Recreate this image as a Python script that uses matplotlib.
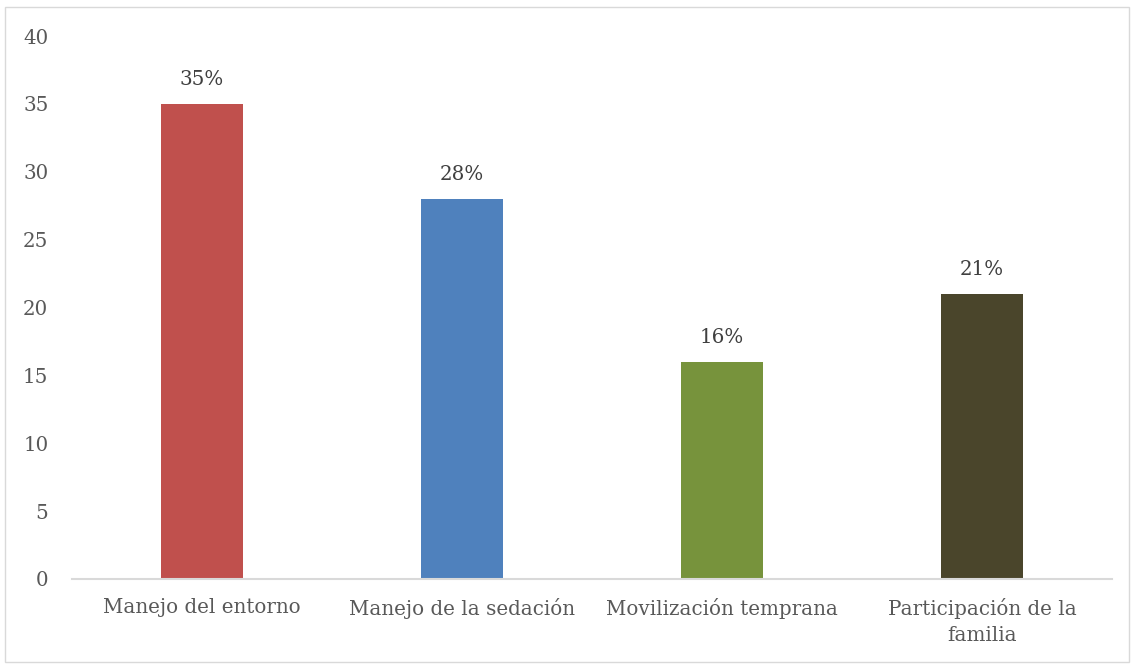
import matplotlib
matplotlib.use("Agg")
import matplotlib.pyplot as plt
from matplotlib.patches import Rectangle

categories = ["Manejo del entorno", "Manejo de la sedación",
              "Movilización temprana", "Participación de la\nfamilia"]
values = [35, 28, 16, 21]
labels = ["35%", "28%", "16%", "21%"]
colors = ["#C0504D", "#4F81BD", "#77933C", "#4A452B"]

plt.rcParams["font.family"] = ["DejaVu Serif"]

fig = plt.figure(figsize=(11.34, 6.64), dpi=100)
ax = fig.add_axes([72 / 1134, 85 / 664, 1040 / 1134, 543 / 664])

x = range(len(categories))
bars = ax.bar(x, values, width=0.316, color=colors, zorder=2)

for b, lab in zip(bars, labels):
    ax.text(b.get_x() + b.get_width() / 2, b.get_height() + 1.1, lab,
            ha="center", va="bottom", fontsize=14.3, color="#404040")

ax.set_xlim(-0.5, 3.5)
ax.set_ylim(0, 40)
ax.set_yticks(range(0, 41, 5))
ax.set_xticks(list(x))
ax.set_xticklabels(categories, fontsize=14.3, color="#595959", linespacing=1.45)
ax.tick_params(axis="y", labelsize=14.3, labelcolor="#595959", length=0, pad=17)
ax.tick_params(axis="x", length=0, pad=14)

for s in ["top", "right", "left"]:
    ax.spines[s].set_visible(False)
ax.spines["bottom"].set_color("#D9D9D9")
ax.spines["bottom"].set_linewidth(1.5)

fig.patches.append(Rectangle((5 / 1134, 2 / 664), 1124 / 1134, 655 / 664,
                             transform=fig.transFigure, fill=False,
                             edgecolor="#D9D9D9", linewidth=1))

fig.savefig("out.png", dpi=100)
